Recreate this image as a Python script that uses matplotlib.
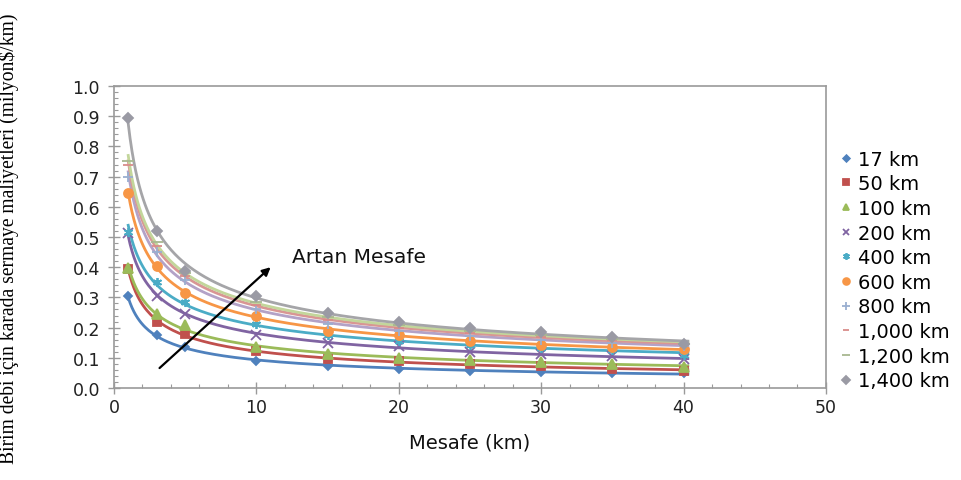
import matplotlib
matplotlib.use("Agg")
import matplotlib.pyplot as plt
import numpy as np

# distances where the points were sampled (km)
mesafe = [1, 3, 5, 10, 15, 20, 25, 30, 35, 40]

labels = ["17 km", "50 km", "100 km", "200 km", "400 km",
          "600 km", "800 km", "1,000 km", "1,200 km", "1,400 km"]

km17 = [0.303, 0.174, 0.135, 0.090, 0.073, 0.064, 0.057, 0.052, 0.050, 0.050]
km50 = [0.394, 0.218, 0.180, 0.121, 0.095, 0.088, 0.079, 0.074, 0.063, 0.057]
km100 = [0.396, 0.245, 0.207, 0.135, 0.113, 0.100, 0.094, 0.087, 0.080, 0.070]
km200 = [0.513, 0.303, 0.245, 0.177, 0.149, 0.138, 0.120, 0.113, 0.105, 0.095]
km400 = [0.515, 0.350, 0.284, 0.213, 0.177, 0.155, 0.143, 0.132, 0.125, 0.110]
km600 = [0.645, 0.405, 0.315, 0.237, 0.190, 0.174, 0.157, 0.143, 0.135, 0.129]
km800 = [0.700, 0.450, 0.356, 0.262, 0.212, 0.190, 0.172, 0.160, 0.150, 0.138]
km1000 = [0.740, 0.470, 0.370, 0.275, 0.225, 0.200, 0.182, 0.170, 0.158, 0.142]
km1200 = [0.752, 0.485, 0.380, 0.285, 0.235, 0.208, 0.190, 0.176, 0.163, 0.145]
km1400 = [0.895, 0.519, 0.389, 0.303, 0.249, 0.217, 0.200, 0.184, 0.168, 0.146]

series = [km17, km50, km100, km200, km400, km600, km800, km1000, km1200, km1400]

colors = ["#4F81BD", "#C0504D", "#9BBB59", "#8064A2", "#4BACC6",
          "#F79646", "#B3A2C7", "#D99694", "#C3D69B", "#A5A5A8"]
marker_colors = ["#4F81BD", "#C0504D", "#9BBB59", "#8064A2", "#4BACC6",
                 "#F79646", "#9AAFD0", "#D98C8A", "#A8B890", "#9A9AA4"]
markers = ["D", "s", "^", "x", (6, 2, 0), "o", "+", "_", "_", "D"]
msizes = [4.5, 6, 6.5, 6.5, 6.5, 6.5, 7, 6.5, 8.5, 5]

fig = plt.figure(figsize=(9.61, 4.81), dpi=100)
ax = fig.add_axes([0.1186, 0.1913, 0.7409, 0.6278])

xs = np.linspace(1, 40.3, 300)
for vals, lab, c, mc, m, ms in zip(series, labels, colors, marker_colors, markers, msizes):
    # power trendline like the spreadsheet one
    b, a = np.polyfit(np.log(mesafe), np.log(vals), 1)
    ax.plot(xs, np.exp(a) * xs ** b, color=c, lw=2.0, zorder=2)
    ax.plot(mesafe, vals, linestyle="none", marker=m, color=mc, markersize=ms,
            markeredgewidth=1.3, label=lab, zorder=3)

ax.set_xlim(0, 50)
ax.set_ylim(0, 1.0)
ax.set_xticks(np.arange(0, 51, 10))
ax.set_yticks(np.arange(0, 1.01, 0.1))
ax.set_xticks(np.arange(0, 51, 2), minor=True)
ax.set_yticks(np.arange(0, 1.001, 0.02), minor=True)
ax.yaxis.set_major_formatter(plt.FormatStrFormatter("%.1f"))

for sp in ax.spines.values():
    sp.set_color("#9a9a9a")
    sp.set_linewidth(1.2)

ax.tick_params(which="major", direction="inout", length=8, width=1, color="#9a9a9a",
               labelsize=12.5, labelcolor="#222222", pad=3)
ax.tick_params(which="minor", direction="in", length=3, width=0.8, color="#9a9a9a")
ax.tick_params(axis="y", pad=6)

ax.set_xlabel("Mesafe (km)", fontsize=14, color="#111111", labelpad=12)
ax.set_ylabel("Birim debi için karada sermaye maliyetleri (milyon$/km)",
              family="Liberation Serif", fontsize=14.1)
ax.yaxis.set_label_coords(-0.133, 0.497)

ax.annotate("", xy=(11.0, 0.40), xytext=(3.2, 0.066),
            arrowprops=dict(arrowstyle="-|>", color="black", lw=1.6,
                            mutation_scale=12, shrinkA=0, shrinkB=0))
ax.text(12.5, 0.437, "Artan Mesafe", fontsize=14.5, va="center", ha="left",
        color="#111111")

fig.legend(loc="upper left", bbox_to_anchor=(0.864, 0.703), frameon=False,
           fontsize=14, handlelength=0.8, handletextpad=0.25,
           labelspacing=0.29, markerscale=0.75, borderaxespad=0)

fig.savefig("out.png", dpi=100)
